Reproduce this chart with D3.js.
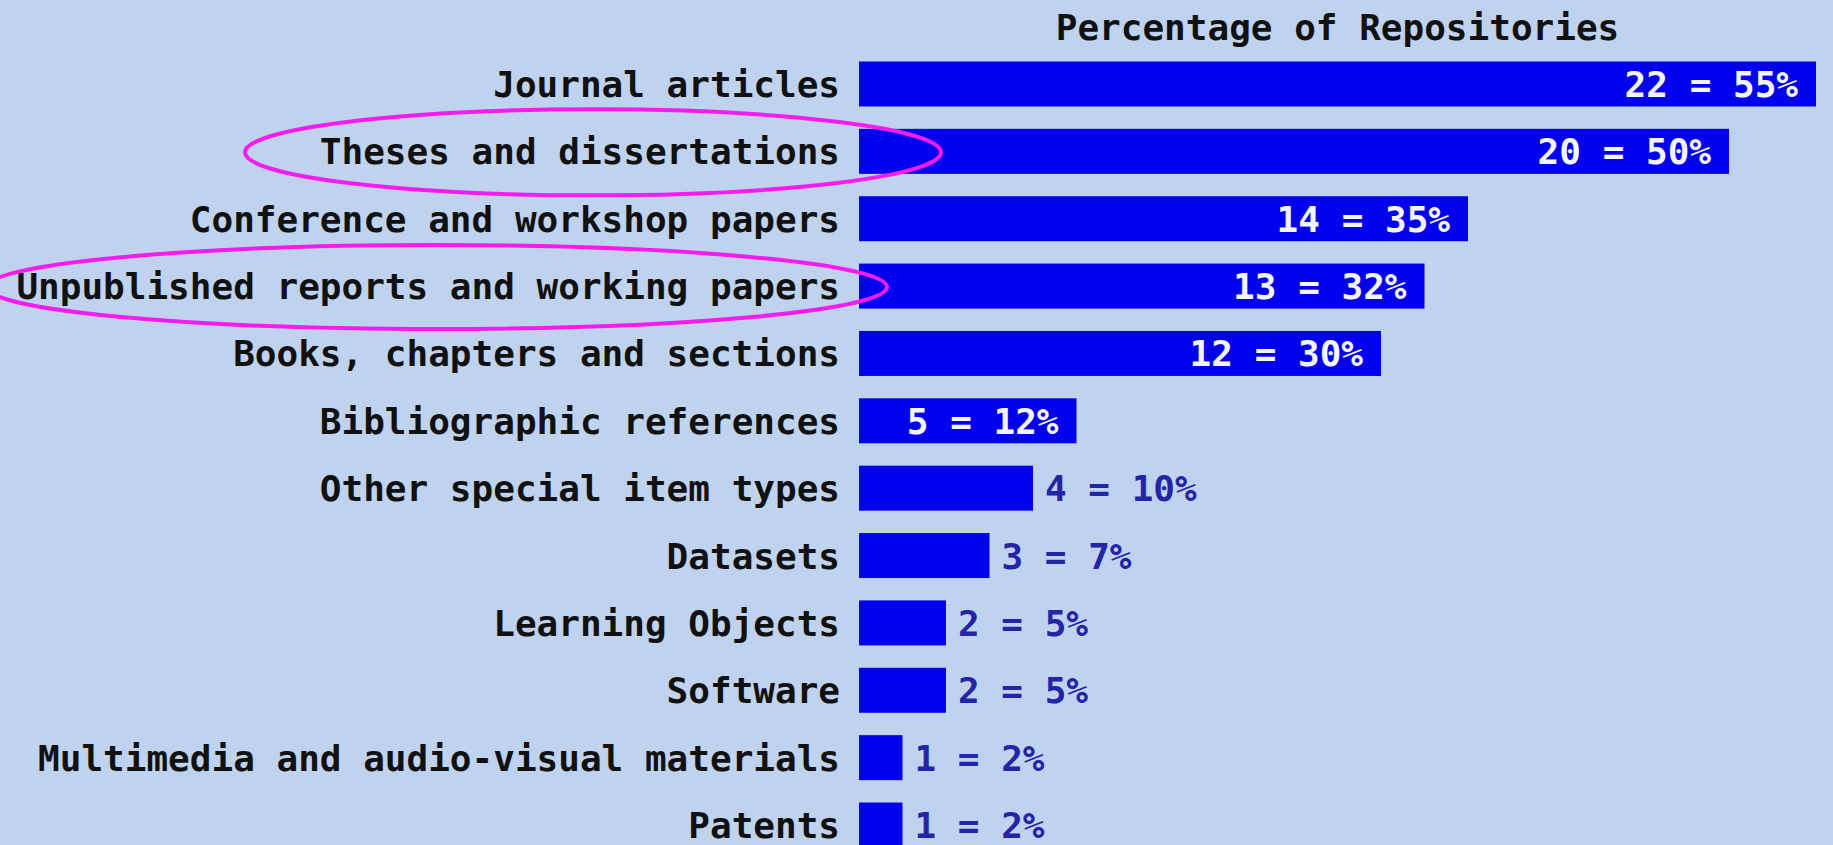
<!DOCTYPE html>
<html>
<head>
<meta charset="utf-8">
<title>Percentage of Repositories</title>
<script src="https://cdnjs.cloudflare.com/ajax/libs/d3/7.8.5/d3.min.js"></script>
<style>
  html, body {
    margin: 0;
    padding: 0;
    background: #bfd3ee;
    overflow: hidden;
  }
  #chart text {
    font-family: "DejaVu Sans Mono", "Liberation Mono", monospace;
    font-weight: bold;
    font-size: 36px;
  }
</style>
</head>
<body>
<div id="chart"></div>
<script>
(function() {
  "use strict";

  var WIDTH = 1833;
  var HEIGHT = 845;

  // Item types, top to bottom
  var categories = [
    'Journal articles',
    'Theses and dissertations',
    'Conference and workshop papers',
    'Unpublished reports and working papers',
    'Books, chapters and sections',
    'Bibliographic references',
    'Other special item types',
    'Datasets',
    'Learning Objects',
    'Software',
    'Multimedia and audio-visual materials',
    'Patents'
  ];

  // Number of repositories holding each item type
  var counts = [22, 20, 14, 13, 12, 5, 4, 3, 2, 2, 1, 1];

  // Percentage shown next to each count
  var percents = [55, 50, 35, 32, 30, 12, 10, 7, 5, 5, 2, 2];

  // Rows that are circled in the picture
  var circled = ['Theses and dissertations', 'Unpublished reports and working papers'];

  var TITLE = 'Percentage of Repositories';

  var rows = categories.map(function(name, i) {
    return { name: name, count: counts[i], pct: percents[i] };
  });

  var svg = d3.select('#chart')
      .append('svg')
      .attr('width', WIDTH)
      .attr('height', HEIGHT);

  // Bars start just right of the labels
  var x = d3.scaleLinear()
      .domain([0, d3.max(counts)])
      .range([859, 1816]);

  var y = d3.scaleBand()
      .domain(categories)
      .range([50.3, 858.7])
      .paddingInner(0.332)
      .paddingOuter(0.166);

  // Title, centred over the bar area
  svg.append('text')
      .attr('x', (x.range()[0] + x.range()[1]) / 2)
      .attr('y', 27)
      .attr('dy', '0.36em')
      .attr('text-anchor', 'middle')
      .attr('fill', '#111')
      .text(TITLE);

  // Category labels, right aligned against the bars
  svg.append('g')
    .selectAll('text')
    .data(rows)
    .join('text')
      .attr('x', x(0) - 19)
      .attr('y', function(d) { return y(d.name) + y.bandwidth() / 2; })
      .attr('dy', '0.36em')
      .attr('text-anchor', 'end')
      .attr('fill', '#111')
      .text(function(d) { return d.name; });

  svg.append('g')
    .selectAll('rect')
    .data(rows)
    .join('rect')
      .attr('x', x(0))
      .attr('y', function(d) { return y(d.name); })
      .attr('width', function(d) { return x(d.count) - x(0); })
      .attr('height', y.bandwidth())
      .attr('fill', '#0202ec');

  // Value labels go inside the bar when they fit, otherwise just after it
  var values = svg.append('g')
    .selectAll('text')
    .data(rows)
    .join('text')
      .attr('y', function(d) { return y(d.name) + y.bandwidth() / 2; })
      .attr('dy', '0.36em')
      .text(function(d) { return d.count + ' = ' + d.pct + '%'; });

  values.each(function(d) {
    var label = d3.select(this);
    var barWidth = x(d.count) - x(0);
    var textWidth = this.getComputedTextLength();
    if (textWidth + 40 <= barWidth) {
      label.attr('x', x(d.count) - 18)
          .attr('text-anchor', 'end')
          .attr('fill', '#f4f4ff');
    } else {
      label.attr('x', x(d.count) + 12)
          .attr('text-anchor', 'start')
          .attr('fill', '#2424a8');
    }
  });

  // Magenta rings drawn round the highlighted labels
  var rings = [
    { name: circled[0], cx: 593, rx: 348, ry: 43 },
    { name: circled[1], cx: 437, rx: 450, ry: 42 }
  ];

  svg.append('g')
    .selectAll('ellipse')
    .data(rings)
    .join('ellipse')
      .attr('cx', function(d) { return d.cx; })
      .attr('cy', function(d) { return y(d.name) + y.bandwidth() / 2 + 1; })
      .attr('rx', function(d) { return d.rx; })
      .attr('ry', function(d) { return d.ry; })
      .attr('fill', 'none')
      .attr('stroke', '#f51cf0')
      .attr('stroke-width', 4);
})();
</script>
</body>
</html>
